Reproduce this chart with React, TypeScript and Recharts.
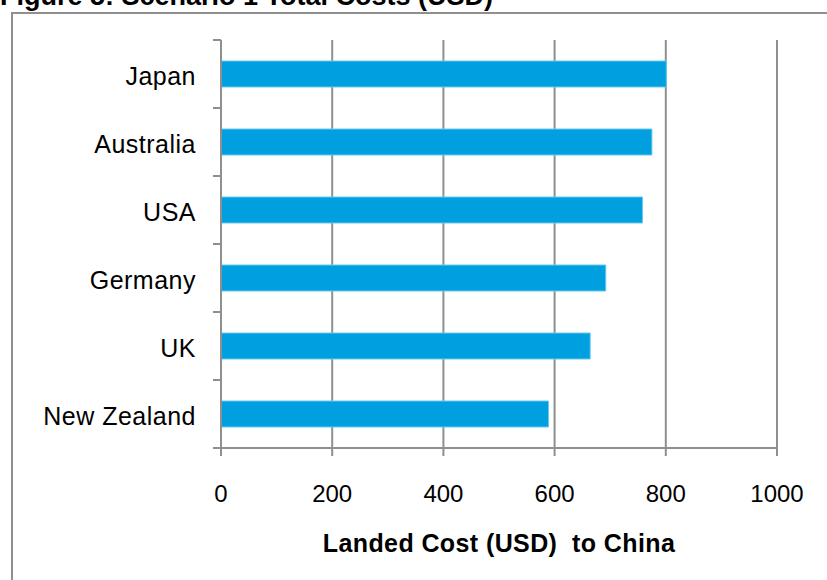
import React from 'react';
import { BarChart, Bar, XAxis, YAxis, CartesianGrid } from 'recharts';

const countries = ['Japan', 'Australia', 'USA', 'Germany', 'UK', 'New Zealand'];
const landedCost = [801, 775, 758, 692, 664, 589];
const costTicks = [0, 200, 400, 600, 800, 1000];

const data = countries.map((name, i) => ({ name, cost: landedCost[i] }));

const W = 827;
const H = 580;
const FONT = '"Liberation Sans", Arial, sans-serif';
const GRID = '#8f8f8f';
const margin = { top: 40, right: 50, bottom: 72, left: 21 };
const Y_AXIS_W = 200;
const X_AXIS_H = 60;
const bandSize = (H - margin.top - margin.bottom - X_AXIS_H) / countries.length;
const axisX = margin.left + Y_AXIS_W;

const CategoryTick = (props: any) => {
    const { y, payload, index } = props;
    const top = y - bandSize / 2;
    return (
        <g>
            <line x1={axisX - 8} x2={axisX} y1={top} y2={top} stroke={GRID} strokeWidth={2} />
            {index === countries.length - 1 && (
                <line x1={axisX - 8} x2={axisX} y1={top + bandSize} y2={top + bandSize} stroke={GRID} strokeWidth={2} />
            )}
            <text
                x={axisX - 25}
                y={y + 11}
                textAnchor="end"
                fontSize={25}
                letterSpacing={0.5}
                fontFamily={FONT}
                fill="#000"
            >
                {payload.value}
            </text>
        </g>
    );
};

const AxisTitle = (props: any) => {
    const { viewBox } = props;
    return (
        <text
            x={viewBox.x + viewBox.width / 2}
            y={viewBox.y + 104}
            textAnchor="middle"
            fontSize={25}
            letterSpacing={0.4}
            fontWeight="bold"
            fontFamily={FONT}
            fill="#000"
            style={{ whiteSpace: 'pre' }}
        >
            {'Landed Cost (USD)  to China'}
        </text>
    );
};

export default function App() {
    return (
        <div style={{ position: 'absolute', left: 0, top: 0, width: W, height: H, overflow: 'hidden', background: '#fff' }}>
            <div
                style={{
                    position: 'absolute', left: 0, top: -17, lineHeight: '27px', fontSize: 27,
                    fontWeight: 'bold', fontFamily: FONT, color: '#000', whiteSpace: 'nowrap',
                }}
            >
                Figure 5: Scenario 1 Total Costs (USD)
            </div>
            <div
                style={{
                    position: 'absolute', left: 11, top: 12, width: 900, height: 700,
                    border: `2px solid ${GRID}`,
                }}
            />
            <div style={{ position: 'absolute', left: 0, top: 0 }}>
                <BarChart width={W} height={H} data={data} layout="vertical" margin={margin}>
                    <CartesianGrid horizontal={false} stroke={GRID} strokeWidth={2} />
                    <XAxis
                        type="number"
                        domain={[0, 1000]}
                        ticks={costTicks}
                        interval={0}
                        height={X_AXIS_H}
                        stroke={GRID}
                        strokeWidth={2}
                        tickSize={8}
                        tickMargin={29}
                        tick={{ fontSize: 24, fontFamily: FONT, fill: '#000' }}
                        tickLine={{ stroke: GRID, strokeWidth: 2 }}
                        label={<AxisTitle />}
                    />
                    <YAxis
                        type="category"
                        dataKey="name"
                        width={Y_AXIS_W}
                        stroke={GRID}
                        strokeWidth={2}
                        tickLine={false}
                        tickSize={8}
                        tickMargin={16}
                        interval={0}
                        tick={<CategoryTick />}
                    />
                    <Bar
                        dataKey="cost"
                        fill="#00a0e0"
                        stroke="#66c9ee"
                        strokeWidth={1}
                        barSize={26}
                        isAnimationActive={false}
                    />
                </BarChart>
            </div>
        </div>
    );
}
